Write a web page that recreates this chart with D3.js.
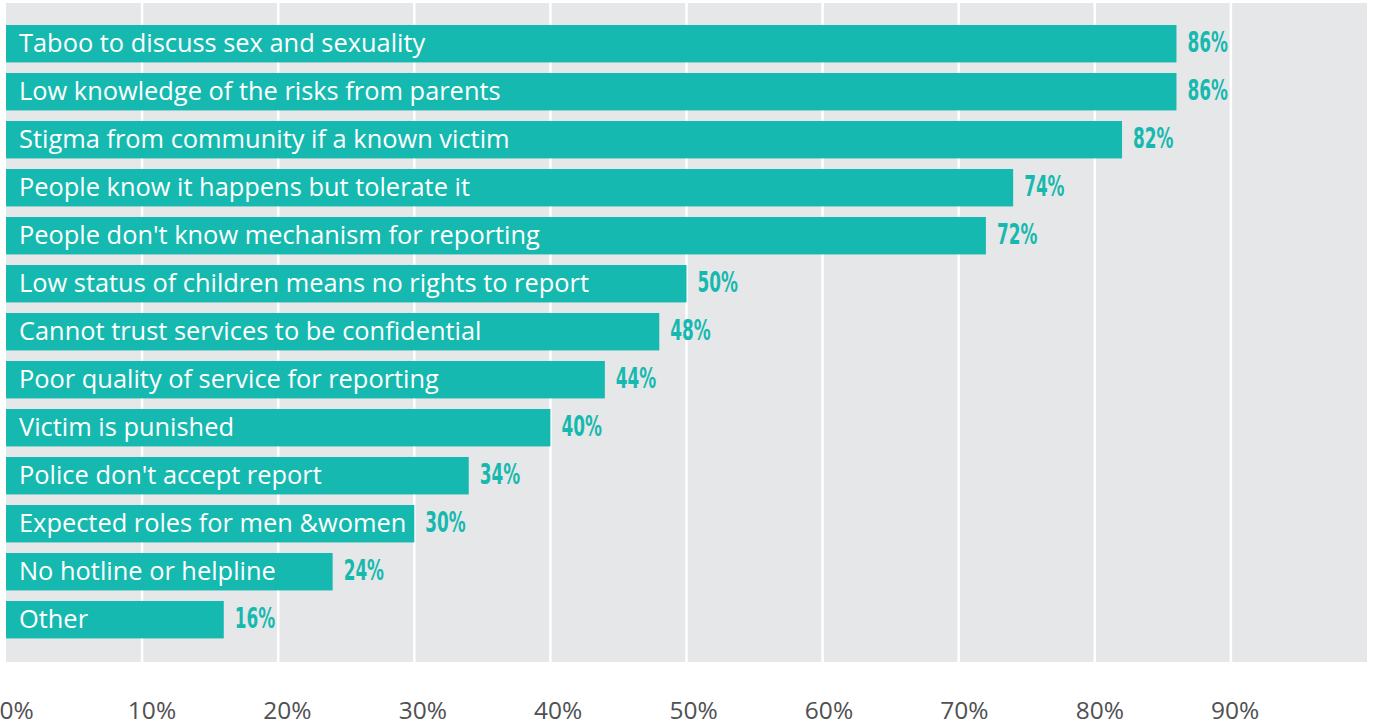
<!DOCTYPE html>
<html><head><meta charset="utf-8">
<script src="https://cdn.jsdelivr.net/npm/d3@7/dist/d3.min.js"></script>
<style>html,body{margin:0;padding:0;background:#fff;overflow:hidden}</style>
</head><body>
<svg id="chart" width="1373" height="725"></svg>
<script>
const categories = [
  "Taboo to discuss sex and sexuality",
  "Low knowledge of the risks from parents",
  "Stigma from community if a known victim",
  "People know it happens but tolerate it",
  "People don't know mechanism for reporting",
  "Low status of children means no rights to report",
  "Cannot trust services to be confidential",
  "Poor quality of service for reporting",
  "Victim is punished",
  "Police don't accept report",
  "Expected roles for men &women",
  "No hotline or helpline",
  "Other"
];
const values = [86, 86, 82, 74, 72, 50, 48, 44, 40, 34, 30, 24, 16];
const tickValues = [0, 10, 20, 30, 40, 50, 60, 70, 80, 90];
const tickLabels = ["0%", "10%", "20%", "30%", "40%", "50%", "60%", "70%", "80%", "90%"];

const svg = d3.select("#chart");
const x = d3.scaleLinear().domain([0, 100]).range([6, 1367]);
const xLabel = d3.scaleLinear().domain([0, 100]).range([16.6, 1370.6]);
const y = d3.scaleBand().domain(categories).range([19.7, 643.7]).paddingInner(0.22).paddingOuter(0.11);

const teal = "#16b9af";
svg.append("rect").attr("x", x(0)).attr("y", 3).attr("width", x(100) - x(0)).attr("height", 659).attr("fill", "#e6e7e9");

svg.append("g").selectAll("line").data(tickValues.slice(1)).join("line")
  .attr("x1", d => x(d)).attr("x2", d => x(d)).attr("y1", 3).attr("y2", 662)
  .attr("stroke", "#fff").attr("stroke-width", 2.5);

svg.append("g").selectAll("rect").data(values).join("rect")
  .attr("x", x(0)).attr("y", (d, i) => y(categories[i]))
  .attr("width", d => x(d) - x(0)).attr("height", y.bandwidth())
  .attr("fill", teal);

svg.append("g").selectAll("text").data(categories).join("text")
  .attr("x", x(0) + 13).attr("y", d => y(d) + y.bandwidth() / 2 + 8)
  .attr("fill", "#fff").attr("font-family", "'Open Sans', sans-serif")
  .attr("font-size", 25.4).text(d => d);

svg.append("g").selectAll("text").data(values).join("text")
  .attr("transform", (d, i) => `translate(${x(d) + 11},${y(categories[i]) + y.bandwidth() / 2 + 8.5}) scale(0.67,1)`)
  .attr("fill", teal).attr("font-family", "'Liberation Sans Narrow', 'DejaVu Sans Condensed', sans-serif")
  .attr("font-weight", "bold").attr("font-size", 28).text(d => d + "%");

svg.append("g").selectAll("text").data(tickValues).join("text")
  .attr("x", d => xLabel(d)).attr("y", 719).attr("text-anchor", "middle")
  .attr("fill", "#505153").attr("font-family", "'Open Sans', sans-serif")
  .attr("font-size", 24.5).text((d, i) => tickLabels[i]);
</script>
</body></html>
